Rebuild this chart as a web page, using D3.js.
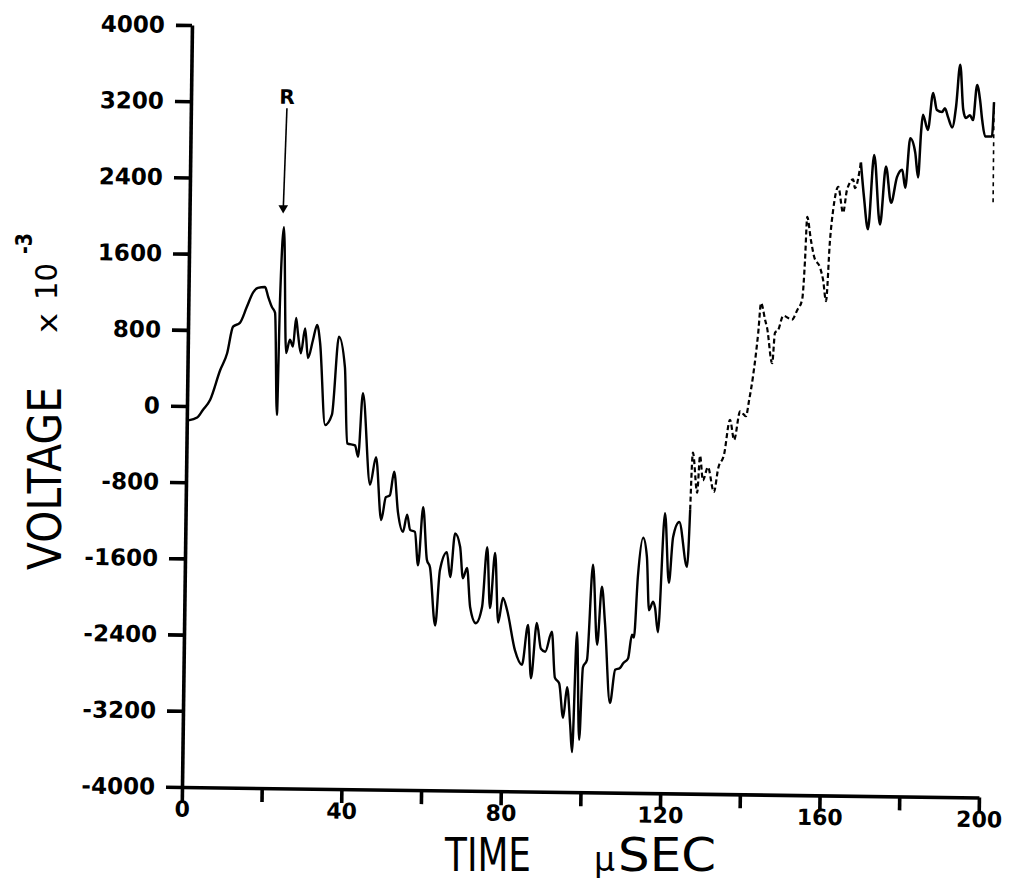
<!DOCTYPE html>
<html>
<head>
<meta charset="utf-8">
<script src="https://cdn.jsdelivr.net/npm/d3@7"></script>
<style>
  body { margin: 0; background: #fff; }
  svg { display: block; }
  text { font-family: "DejaVu Sans", sans-serif; fill: #000; }
</style>
</head>
<body>
<svg id="chart"></svg>
<script>
// trace, time in microseconds, voltage in units of 1e-3
const timeUs = [
  0.4, 2.6, 4.0, 5.8, 8.2, 9.9, 11.3, 13.0, 14.7, 16.2,
  17.4, 19.2, 20.0, 21.0, 21.8, 22.6, 23.0, 23.75, 24.7, 25.6,
  26.4, 27.1, 27.6, 28.4, 29.4, 30.2, 31.4, 32.4, 33.2, 34.7,
  36.4, 37.9, 39.5, 40.3, 42.3, 43.1, 44.1, 46.2, 47.6, 49.1,
  50.2, 51.2, 52.2, 53.3, 54.6, 55.6, 56.4, 57.6, 58.5, 59.6,
  60.7, 61.5, 63.0, 64.0, 65.7, 66.6, 67.7, 69.0, 69.8, 70.8,
  71.7, 73.2, 74.7, 75.8, 76.7, 77.8, 78.8, 79.9, 81.0, 83.1,
  84.9, 86.3, 87.2, 88.5, 89.6, 90.7, 92.3, 93.2, 94.3, 95.4,
  96.3, 97.2, 97.75, 98.6, 99.5, 100.2, 101.2, 102.4, 103.7, 104.7,
  105.6, 107.1, 108.3, 109.5, 110.3, 111.5, 112.4, 112.9, 113.7, 114.9,
  115.9, 116.6, 117.6, 118.1, 118.9, 120.3, 121.5, 122.4, 123.9, 126.0,
  126.6, 127.1, 128.3, 128.9, 129.7, 130.9, 132.5, 133.5, 134.9, 136.3,
  137.4, 138.8, 140.3, 141.0, 141.9, 143.1, 143.7, 144.8, 145.3, 146.7,
  147.3, 148.1, 149.3, 151.5, 152.8, 154.0, 154.6, 155.0, 156.0, 156.9,
  158.4, 159.2, 160.0, 160.8, 161.5, 162.7, 164.0, 164.9, 166.4, 166.9,
  168.3, 169.2, 170.3, 171.6, 173.3, 174.6, 176.0, 177.4, 178.7, 179.5,
  180.6, 181.9, 182.7, 183.3, 183.7, 185.0, 186.2, 187.2, 188.5, 189.2,
  190.0, 191.1, 192.0, 192.9, 193.8, 194.5, 195.5, 196.3, 197.2, 198.0,
  198.6, 199.4, 201.1, 201.5, 201.6
];
const voltage = [
  -150, -120, -40, 70, 380, 560, 840, 880, 1050, 1200,
  1250, 1260, 1160, 1050, 990, -80, 1130, 1890, 570, 710,
  640, 940, 780, 570, 830, 520, 710, 870, 680, -180,
  -70, 750, 430, -370, -390, -510, 160, -800, -510, -1170,
  -930, -910, -660, -1090, -1290, -1110, -1270, -1290, -1640, -1030,
  -1580, -1660, -2270, -1690, -1500, -1760, -1300, -1440, -1770, -1660,
  -2070, -2240, -2070, -1440, -2080, -1500, -2230, -1970, -2100, -2520,
  -2670, -2250, -2810, -2230, -2500, -2530, -2320, -2800, -2860, -3220,
  -2900, -3300, -3580, -2320, -3450, -2690, -2610, -1610, -2450, -1840,
  -2220, -3060, -2710, -2690, -2640, -2590, -2340, -2370, -1730, -1320,
  -1520, -2080, -1990, -2050, -2310, -1060, -1790, -1310, -1150, -1620,
  -1020, -420, -840, -450, -710, -570, -830, -580, -440, -70,
  -280, 20, -30, 130, 380, 850, 1160, 980, 900, 530,
  850, 880, 1030, 990, 1090, 1200, 1620, 2070, 1830, 1650,
  1540, 1410, 1190, 1830, 2150, 2390, 2120, 2360, 2470, 2380,
  2650, 2280, 1950, 2730, 2000, 2610, 2230, 2500, 2580, 2390,
  2910, 2760, 2500, 2980, 3160, 3000, 3390, 3210, 3190, 3230,
  3140, 3030, 3250, 3690, 3220, 3130, 3160, 3110, 3480, 3320,
  3110, 2940, 2940, 3300, 2240
];

const xTicks = [0, 20, 40, 60, 80, 100, 120, 140, 160, 180, 200];
const xTickLabels = ["0", "", "40", "", "80", "", "120", "", "160", "", "200"];
const yTicks = [-4000, -3200, -2400, -1600, -800, 0, 800, 1600, 2400, 3200, 4000];
const yTickLabels = ["-4000", "-3200", "-2400", "-1600", "-800", "0", "800", "1600", "2400", "3200", "4000"];

// "R" mark above the spike
const markR = { label: "R", t: 24.1, v: 3260, tailV: 3140, tipT: 23.5, tipV: 2060 };

const width = 1010;
const height = 884;
const margin = { top: 25, left: 182, bottom: 97, right: 31 };
const skew = 0.75; // the scan is turned a little

const svg = d3.select("#chart").attr("width", width).attr("height", height);
svg.append("rect").attr("width", width).attr("height", height).attr("fill", "#fff");

const x = d3.scaleLinear().domain([0, 200]).range([margin.left, width - margin.right]);
const y = d3.scaleLinear().domain([-4000, 4000]).range([height - margin.bottom, margin.top]);

const g = svg.append("g")
  .attr("transform", `rotate(${skew}, ${margin.left}, ${height - margin.bottom})`);

const xAxis = g.append("g")
  .attr("transform", `translate(0, ${y(-4000)})`)
  .call(d3.axisBottom(x)
    .tickValues(xTicks)
    .tickFormat((d, i) => xTickLabels[i])
    .tickSize(14)
    .tickSizeOuter(0)
    .tickPadding(0));

const yAxis = g.append("g")
  .attr("transform", `translate(${x(0)}, 0)`)
  .call(d3.axisLeft(y)
    .tickValues(yTicks)
    .tickFormat((d, i) => yTickLabels[i])
    .tickSize(16)
    .tickSizeOuter(0)
    .tickPadding(11));

[xAxis, yAxis].forEach(a => {
  a.selectAll("path, line").attr("stroke", "#000").attr("stroke-width", 3.6);
  a.selectAll("text")
    .style("font-family", "'DejaVu Sans', sans-serif")
    .style("font-weight", "bold")
    .attr("fill", "#000");
});
xAxis.selectAll("text").style("font-size", "22px");
yAxis.selectAll("text").style("font-size", "23px");

// trace
const pts = timeUs.map((t, i) => ({ t: t, v: voltage[i] }));
const line = d3.line()
  .x(d => x(d.t))
  .y(d => y(d.v))
  .curve(d3.curveMonotoneX);

const pieces = [
  { data: pts.slice(0, 111), dash: null, w: 2.4 },
  { data: pts.slice(110, 151), dash: "5 3", w: 2.2 },
  { data: pts.slice(150, 184), dash: null, w: 2.5 },
  { data: pts.slice(183), dash: "4 4", w: 1.6 }
];

pieces.forEach(p => {
  g.append("path")
    .datum(p.data)
    .attr("d", line)
    .attr("fill", "none")
    .attr("stroke", "#000")
    .attr("stroke-width", p.w)
    .attr("stroke-linejoin", "round")
    .attr("stroke-dasharray", p.dash);
});

// R arrow
g.append("line")
  .attr("x1", x(markR.t)).attr("y1", y(markR.tailV))
  .attr("x2", x(markR.tipT)).attr("y2", y(markR.tipV))
  .attr("stroke", "#000")
  .attr("stroke-width", 1.6);

g.append("path")
  .attr("d", d3.symbol().type(d3.symbolTriangle).size(40)())
  .attr("transform", `translate(${x(markR.tipT)}, ${y(markR.tipV) - 3}) rotate(180)`)
  .attr("fill", "#000");

g.append("text")
  .attr("x", x(markR.t))
  .attr("y", y(markR.v))
  .attr("text-anchor", "middle")
  .attr("dy", "0.35em")
  .style("font-weight", "bold")
  .style("font-size", "20px")
  .text(markR.label);

// axis titles
const yt = svg.append("g").attr("transform", "translate(61, 570) rotate(-90)");
yt.append("text")
  .attr("x", 0).attr("y", 0)
  .attr("textLength", 183)
  .attr("lengthAdjust", "spacingAndGlyphs")
  .style("font-size", "46px")
  .text("VOLTAGE");
yt.append("text")
  .attr("x", 237).attr("y", -4)
  .attr("textLength", 20)
  .attr("lengthAdjust", "spacingAndGlyphs")
  .style("font-size", "29px")
  .text("x");
yt.append("text")
  .attr("x", 270).attr("y", -4)
  .attr("textLength", 37)
  .attr("lengthAdjust", "spacingAndGlyphs")
  .style("font-size", "31px")
  .text("10");
yt.append("text")
  .attr("x", 316).attr("y", -29)
  .attr("textLength", 21)
  .attr("lengthAdjust", "spacingAndGlyphs")
  .style("font-size", "23px")
  .style("font-weight", "bold")
  .text("-3");

const xt = svg.append("g");
xt.append("text")
  .attr("x", 445).attr("y", 871)
  .attr("textLength", 86)
  .attr("lengthAdjust", "spacingAndGlyphs")
  .style("font-size", "46px")
  .text("TIME");
xt.append("text")
  .attr("x", 594).attr("y", 871)
  .style("font-size", "33px")
  .text("μ");
xt.append("text")
  .attr("x", 618).attr("y", 871)
  .attr("textLength", 98)
  .attr("lengthAdjust", "spacingAndGlyphs")
  .style("font-size", "46px")
  .text("SEC");
</script>
</body>
</html>
